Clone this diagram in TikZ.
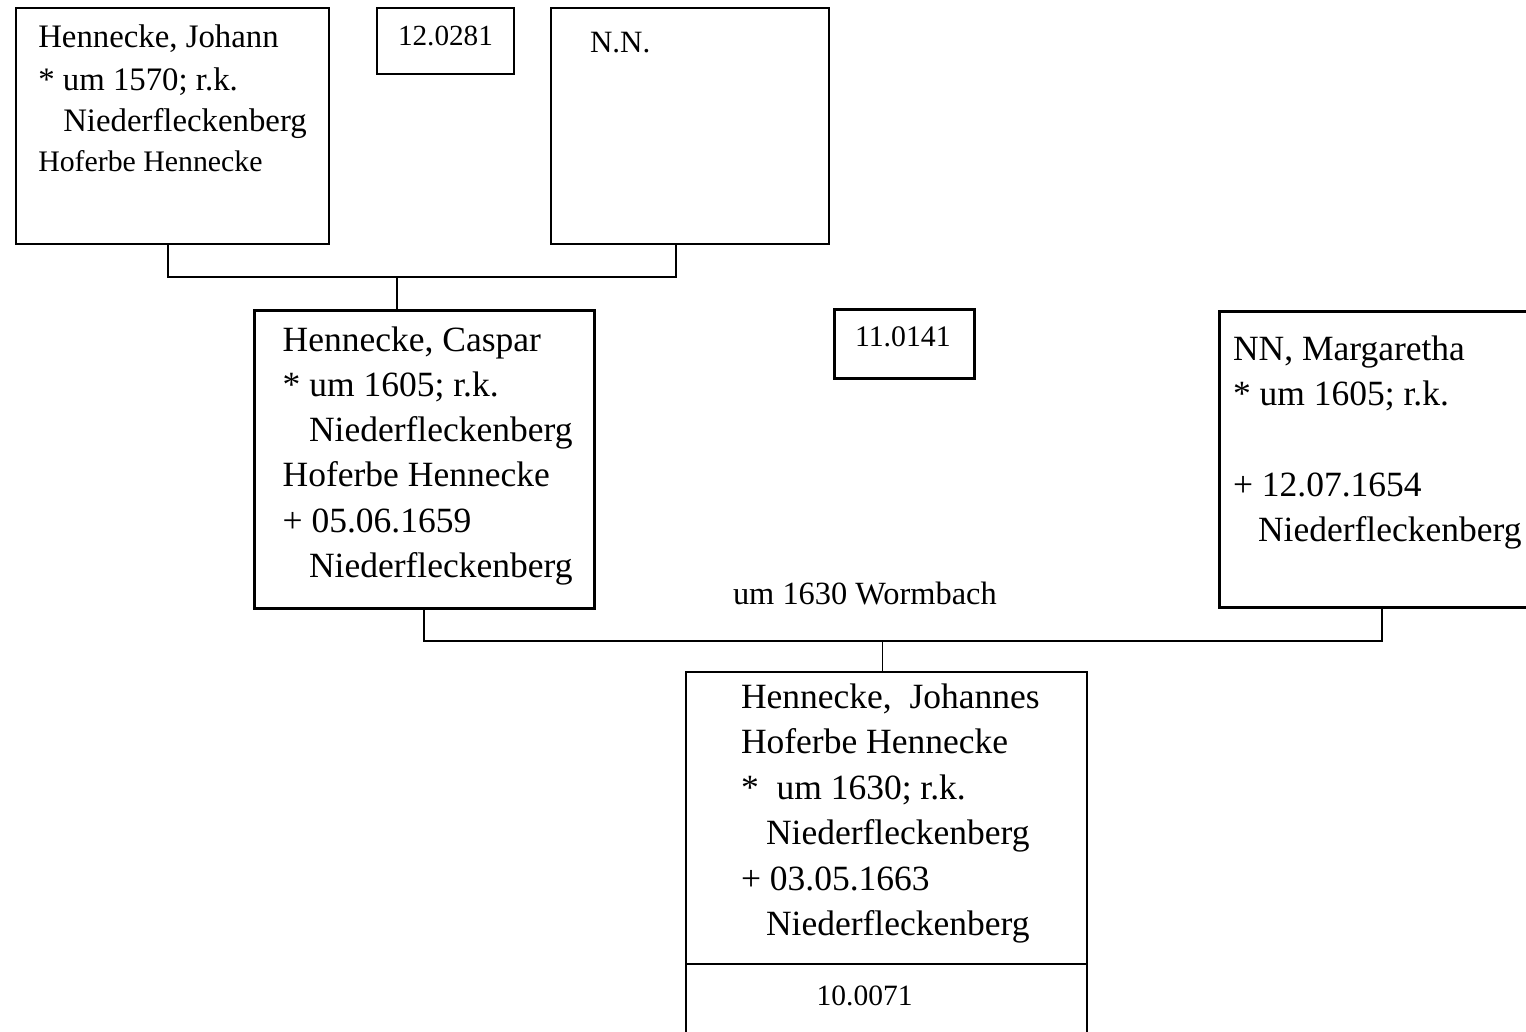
\documentclass[tikz,border=0pt]{standalone}
\usepackage{fontspec}
\setmainfont{Liberation Serif}
\usetikzlibrary{calc}
\tikzset{
  person/.style={draw=black, rectangle, inner sep=0pt, anchor=north west, line width=1.8pt},
  bold person/.style={person, line width=3.3pt},
  link/.style={draw=black, line width=1.8pt},
  ln/.style={anchor=base west, inner sep=0pt, outer sep=0pt},
}
\newcommand{\fsz}[1]{\fontsize{#1}{#1}\selectfont}
\begin{document}
\begin{tikzpicture}[x=1pt, y=-1pt]
\useasboundingbox (0,0) rectangle (1526,1031);
\fill[white] (0,0) rectangle (1526,1031);
\clip (0,0) rectangle (1526,1031);

% generation 12
\node[person, minimum width=313pt, minimum height=236pt] (johann) at (15,7) {};
\node[person, minimum width=137pt, minimum height=66pt] (num12) at (376,7) {};
\node[person, minimum width=278pt, minimum height=236pt] (nn) at (550,7) {};

\node[ln, font=\fsz{32.8}] (a1) at (38.3,47.7) {Hennecke, Johann};
\node[ln, font=\fsz{32.8}] (a2) at (38.3,90) {* um 1570; r.k.};
\node[ln, font=\fsz{32.8}] (a3) at (63.3,131.7) {Niederfleckenberg};
\node[ln, font=\fsz{29.8}] (a4) at (38.3,171.7) {Hoferbe Hennecke};
\node[ln, font=\fsz{29.2}] (n12) at (398,45) {12.0281};
\node[ln, font=\fsz{31}] (b1) at (590,52.7) {N.N.};

% generation 11
\node[bold person, minimum width=340pt, minimum height=298pt] (caspar) at (253,309) {};
\node[bold person, minimum width=140pt, minimum height=69pt] (num11) at (833,308) {};
\node[bold person, minimum width=340pt, minimum height=296pt] (marg) at (1218,310) {};

\node[ln, font=\fsz{35.5}] (c1) at (282.7,351.7) {Hennecke, Caspar};
\node[ln, font=\fsz{35.5}] (c2) at (282.7,396.7) {* um 1605; r.k.};
\node[ln, font=\fsz{35.5}] (c3) at (309,441.7) {Niederfleckenberg};
\node[ln, font=\fsz{35.5}] (c4) at (282.7,486.7) {Hoferbe Hennecke};
\node[ln, font=\fsz{35.5}] (c5) at (282.7,532) {+ 05.06.1659};
\node[ln, font=\fsz{35.5}] (c6) at (309,577) {Niederfleckenberg};

\node[ln, font=\fsz{29.8}] (n11) at (855,346.7) {11.0141};

\node[ln, font=\fsz{35.5}] (m1) at (1233,360) {NN, Margaretha};
\node[ln, font=\fsz{35.5}] (m2) at (1233,405) {* um 1605; r.k.};
\node[ln, font=\fsz{35.5}] (m3) at (1233,496.7) {+ 12.07.1654};
\node[ln, font=\fsz{35.5}] (m4) at (1258,541.7) {Niederfleckenberg};

\node[ln, font=\fsz{32.4}] (wed) at (733,604) {um 1630 Wormbach};

% generation 10
\node[person, minimum width=401pt, minimum height=380pt] (johannes) at (685,671) {};
\draw[link] (johannes.west |- 0,964) coordinate (dl) -- (johannes.east |- dl);

\node[ln, font=\fsz{35.5}] (j1) at (741,708.3) {Hennecke,~~Johannes};
\node[ln, font=\fsz{35.5}] (j2) at (741,753.3) {Hoferbe Hennecke};
\node[ln, font=\fsz{35.5}] (j3) at (741,799.3) {*~~um 1630; r.k.};
\node[ln, font=\fsz{35.5}] (j4) at (766,844) {Niederfleckenberg};
\node[ln, font=\fsz{35.5}] (j5) at (741,890) {+ 03.05.1663};
\node[ln, font=\fsz{35.5}] (j6) at (766,935) {Niederfleckenberg};
\node[ln, font=\fsz{29.5}] (n10) at (816.7,1005.7) {10.0071};

% family links
\coordinate (top) at (397,277);
\draw[link] ($(johann.south west)!0.485!(johann.south east)$) |- (top)
            -| ($(nn.south west)!0.45!(nn.south east)$);
\draw[link] (top) -- (top |- caspar.north);

\coordinate (mid) at (882.5,641);
\draw[link] ($(caspar.south west)!0.497!(caspar.south east)$) |- (mid)
            -| ($(marg.south west)!0.4775!(marg.south east)$);
\draw[link] (mid) -- (mid |- johannes.north);
\end{tikzpicture}
\end{document}
